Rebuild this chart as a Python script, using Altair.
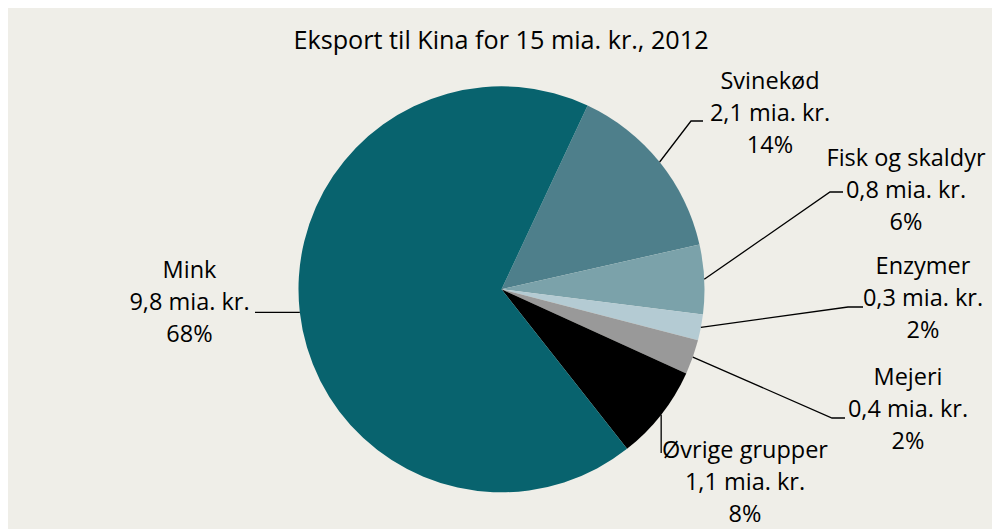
import altair as alt
import numpy as np
import pandas as pd

# ---- data ----
categories = ["Svinekød", "Fisk og skaldyr", "Enzymer", "Mejeri", "Øvrige grupper", "Mink"]
values = [2.1, 0.8, 0.3, 0.4, 1.1, 9.8]          # mia. kr.
value_labels = ["2,1 mia. kr.", "0,8 mia. kr.", "0,3 mia. kr.", "0,4 mia. kr.", "1,1 mia. kr.", "9,8 mia. kr."]
pct_labels = ["14%", "6%", "2%", "2%", "8%", "68%"]
colors = ["#4e7f8b", "#7ba2aa", "#b4cbd3", "#999999", "#000000", "#08636e"]
title_text = "Eksport til Kina for 15 mia. kr., 2012"

# ---- layout ----
W, H = 984, 521
CX, CY, R = 493.5, 281.3, 203
START = np.deg2rad(25.1)
FONT = "Open Sans"
FS = 23.5
LH = 32
BG = "#efeee8"

# label anchor (first-line centre) and leader-line elbow / end, chart pixels
label_pos = {
    "Svinekød":        (762, 73.5),
    "Fisk og skaldyr": (898, 151),
    "Enzymer":         (915, 258.5),
    "Mejeri":          (900, 369.5),
    "Øvrige grupper":  (737, 443),
    "Mink":            (181.5, 263),
}
leader_pts = {
    "Svinekød":        [(683, 113), (695, 113)],
    "Fisk og skaldyr": [(822, 184), (835, 184)],
    "Enzymer":         [(840, 299), (855, 299)],
    "Mejeri":          [(824, 410), (837, 410)],
    "Øvrige grupper":  [(None, 445)],
    "Mink":            [(247, None)],
}

df = pd.DataFrame({
    "category": categories,
    "value": values,
    "order": list(range(len(categories))),
    "label": [f"{c}\n{v}\n{p}" for c, v, p in zip(categories, value_labels, pct_labels)],
})
df["lx"] = [label_pos[c][0] for c in categories]
df["ly"] = [label_pos[c][1] for c in categories]

total = float(np.sum(values))
cum = np.cumsum(values)
mid = START + 2 * np.pi * (cum - np.array(values) / 2) / total
sx = CX + R * np.sin(mid)
sy = CY - R * np.cos(mid)

rows = []
for i, c in enumerate(categories):
    rows.append({"category": c, "seq": 0, "x": sx[i], "y": sy[i]})
    for j, (px, py) in enumerate(leader_pts[c]):
        rows.append({"category": c, "seq": j + 1,
                     "x": sx[i] if px is None else px,
                     "y": sy[i] if py is None else py})
lines_df = pd.DataFrame(rows)

pie = alt.Chart(df).mark_arc(outerRadius=R).encode(
    theta=alt.Theta("value:Q", stack=True,
                    scale=alt.Scale(range=[float(START), float(START + 2 * np.pi)])),
    order=alt.Order("order:Q"),
    color=alt.Color("category:N", scale=alt.Scale(domain=categories, range=colors), legend=None),
    x=alt.value(CX), y=alt.value(CY),
)

leaders = alt.Chart(lines_df).mark_line(color="#000000", strokeWidth=1.3).encode(
    x=alt.X("x:Q", scale=None, axis=None),
    y=alt.Y("y:Q", scale=None, axis=None),
    detail="category:N",
    order="seq:Q",
)

labels = alt.Chart(df).mark_text(
    lineBreak="\n", align="center", baseline="middle",
    font=FONT, fontSize=FS, lineHeight=LH, color="#000000",
).encode(
    x=alt.X("lx:Q", scale=None, axis=None),
    y=alt.Y("ly:Q", scale=None, axis=None),
    text="label:N",
)

title = alt.Chart(pd.DataFrame({"t": [title_text]})).mark_text(
    align="center", baseline="middle", font=FONT, fontSize=25.2, color="#000000",
).encode(x=alt.value(493), y=alt.value(33), text="t:N")

chart = alt.layer(pie, leaders, labels, title).properties(
    width=W, height=H,
    autosize=alt.AutoSizeParams(type="none"),
    padding=0,
    background=BG,
).configure_view(stroke=None)

chart.save("out.html", embed_options={"renderer": "svg", "actions": False})
